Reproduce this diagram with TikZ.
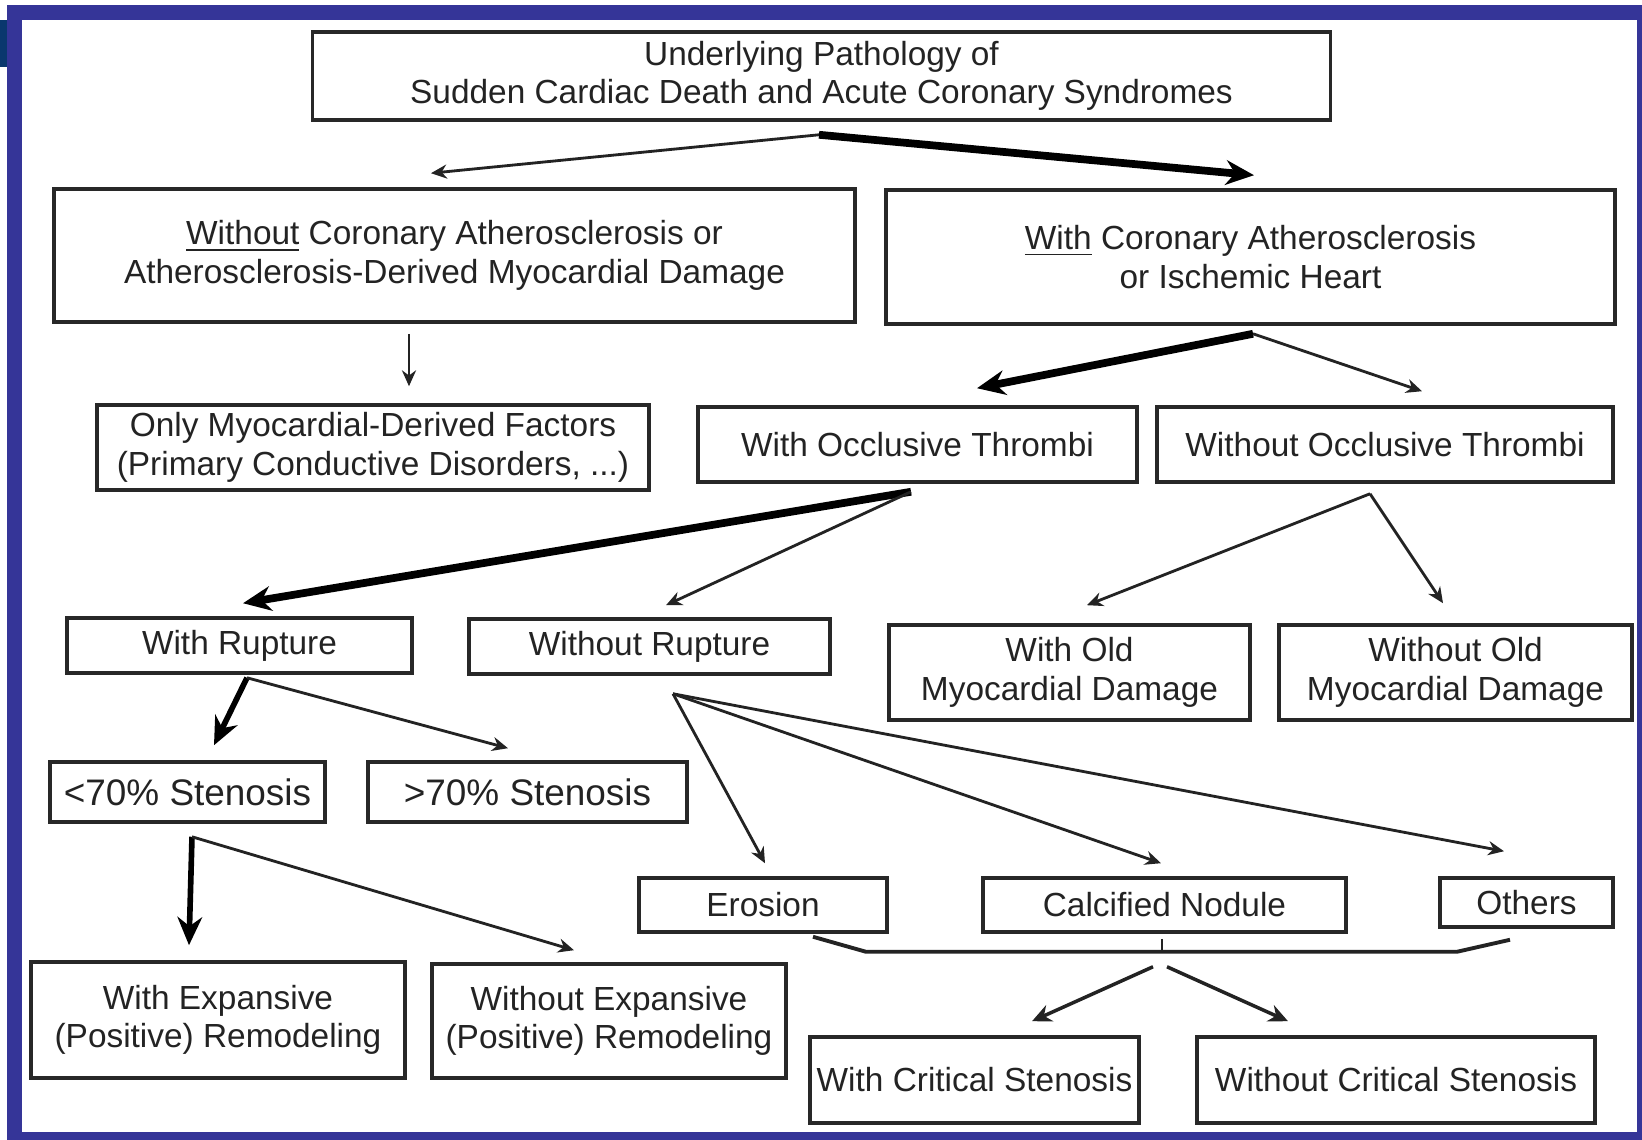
\documentclass[tikz,border=0pt]{standalone}
\usepackage{fontspec}
\setmainfont{Liberation Sans}
\usetikzlibrary{arrows.meta,calc}

\definecolor{frameblue}{RGB}{53,53,152}
\definecolor{navyblock}{RGB}{10,55,110}
\definecolor{boxline}{RGB}{40,40,40}
\definecolor{inkgray}{RGB}{35,35,35}

\tikzset{
  pbox/.style 2 args={draw=boxline, line width=1pt, minimum width=#1, minimum height=#2,
    inner sep=0pt, align=center, text=inkgray, font=\fontsize{9.5}{11}\selectfont},
  thinarr/.style={-{Stealth[length=4.5pt,width=4pt]}, line width=0.8pt, draw=inkgray},
  midarr/.style={-{Stealth[length=5.5pt,width=5pt]}, line width=1pt, draw=inkgray},
  heavyarr/.style={-{Stealth[length=8pt,width=7pt]}, line width=2.2pt},
}

\begin{document}
\begin{tikzpicture}[x=0.01cm,y=-0.01cm]

\useasboundingbox (0,0) rectangle (1642,1140);

%frame
\fill[frameblue] (7,5) rectangle (1642,1140);
\fill[white] (22,20) rectangle (1637,1132);
\fill[navyblock] (0,20) rectangle (7,67);

%boxes
\node[pbox={10.17cm}{0.88cm}] (root) at (821.5,76) {Underlying Pathology of\\Sudden Cardiac Death and Acute Coronary Syndromes};

\node[pbox={8.01cm}{1.33cm}] (noath) at (454.5,255.5) {\underline{Without} Coronary Atherosclerosis or\\Atherosclerosis-Derived Myocardial Damage};
\node[pbox={7.29cm}{1.34cm}] (ath) at (1250.5,257) {\underline{With} Coronary Atherosclerosis\\or Ischemic Heart};

\node[pbox={5.52cm}{0.85cm}] (myo) at (373,447.5) {Only Myocardial-Derived Factors\\(Primary Conductive Disorders, ...)};
\node[pbox={4.39cm}{0.75cm}] (occ) at (917.5,444.5) {With Occlusive Thrombi};
\node[pbox={4.56cm}{0.75cm}] (nocc) at (1385,444.5) {Without Occlusive Thrombi};

\node[pbox={3.45cm}{0.55cm}] (rup) at (239.5,645.5) {With Rupture};
\node[pbox={3.61cm}{0.55cm}] (norup) at (649.5,646.5) {Without Rupture};
\node[pbox={3.61cm}{0.95cm}] (old) at (1069.5,672.5) {With Old\\Myocardial Damage};
\node[pbox={3.53cm}{0.95cm}] (noold) at (1455.5,672.5) {Without Old\\Myocardial Damage};

\node[pbox={2.75cm}{0.60cm}] (lt) at (187.5,792) {\fontsize{10.5}{12}\selectfont <70\% Stenosis};
\node[pbox={3.19cm}{0.60cm}] (gt) at (527.5,792) {\fontsize{10.5}{12}\selectfont >70\% Stenosis};

\node[pbox={2.48cm}{0.54cm}] (ero) at (763,905) {Erosion};
\node[pbox={3.63cm}{0.54cm}] (calc) at (1164.5,905) {Calcified Nodule};
\node[pbox={1.73cm}{0.49cm}] (oth) at (1526.5,902.5) {Others};

\node[pbox={3.74cm}{1.16cm}] (exp) at (218,1020) {With Expansive\\(Positive) Remodeling};
\node[pbox={3.54cm}{1.14cm}] (noexp) at (609,1021) {Without Expansive\\(Positive) Remodeling};
\node[pbox={3.29cm}{0.86cm}] (crit) at (974.5,1080) {With Critical Stenosis};
\node[pbox={3.98cm}{0.86cm}] (nocrit) at (1396,1080) {Without Critical Stenosis};

%fork points
\coordinate (f1) at ($(root.south)+(-2.5,13)$);
\coordinate (f2) at ($(ath.south)+(2.5,8)$);
\coordinate (f3) at ($(noath.south)+(-45.5,10)$);
\coordinate (f4) at ($(occ.south)+(-6.5,8)$);
\coordinate (f5) at ($(nocc.south)+(-15,10)$);
\coordinate (f6) at ($(rup.south)+(7.5,3)$);
\coordinate (f7) at ($(norup.south)+(23.5,18)$);
\coordinate (f8) at ($(lt.south)+(4.5,13)$);
\coordinate (bmid) at ($(calc.south)+(-2.5,18)$);

%branches
\draw[thinarr] (f1) -- ($(noath.north)+(-23.5,-14)$);
\draw[heavyarr] (f1) -- ($(ath.north)+(3.5,-13)$);
\draw[thinarr] (f3) -- ($(myo.north)+(36,-17)$);
\draw[heavyarr] (f2) -- ($(occ.north)+(59.5,-17)$);
\draw[thinarr] (f2) -- ($(nocc.north)+(37,-14)$);
\draw[heavyarr] (f4) -- ($(rup.north)+(3.5,-13)$);
\draw[thinarr] (f4) -- ($(norup.north)+(16.5,-12)$);
\draw[thinarr] (f5) -- ($(old.north)+(17.5,-18)$);
\draw[thinarr] (f5) -- ($(noold.north)+(-12.5,-20)$);
\draw[heavyarr, line width=1.6pt] (f6) -- ($(lt.north)+(26.5,-15)$);
\draw[thinarr] (f6) -- ($(gt.north)+(-19.5,-12)$);
\draw[thinarr] (f7) -- ($(ero.north)+(2,-13)$);
\draw[thinarr] (f7) -- ($(calc.north)+(-3.5,-13)$);
\draw[thinarr] (f7) -- ($(oth.north)+(-22.5,-25)$);
\draw[heavyarr, line width=1.6pt] (f8) -- ($(exp.north)+(-29,-15)$);
\draw[thinarr] (f8) -- ($(noexp.north)+(-35,-12)$);

%bracket under erosion, nodule, others
\draw[line width=1.1pt, draw=inkgray] ($(ero.south)+(50,3)$) -- ($(bmid)+(-296,0)$) -- ($(bmid)+(295,0)$) -- ($(oth.south)+(-16.5,11)$);
\draw[line width=0.7pt, draw=inkgray] ($(calc.south)+(-2.5,5)$) -- (bmid);
\draw[midarr] ($(calc.south)+(-11.5,33)$) -- ($(crit.north)+(57.5,-14)$);
\draw[midarr] ($(calc.south)+(2.5,33)$) -- ($(nocrit.north)+(-108,-14)$);

\end{tikzpicture}
\end{document}
